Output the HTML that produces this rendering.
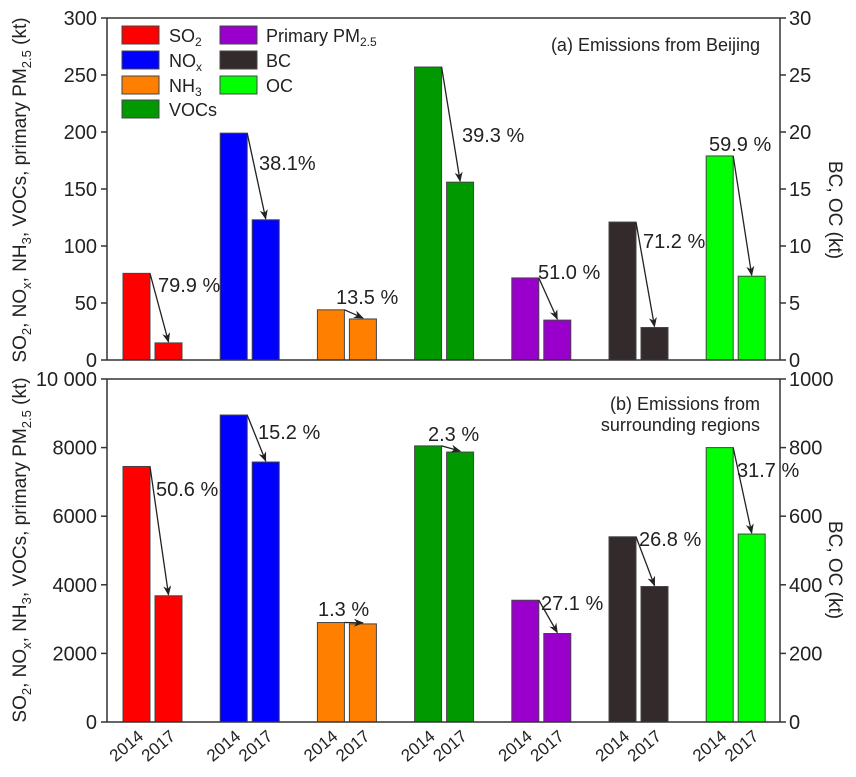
<!DOCTYPE html>
<html><head><meta charset="utf-8"><style>
body{margin:0;background:#fff}
svg{display:block;font-family:"Liberation Sans",Arial,sans-serif;fill:#222}
</style></head><body>
<svg id="c" width="856" height="777" viewBox="0 0 856 777"></svg>
<script>
const species = ["SO2","NOx","NH3","VOCs","PM2.5","BC","OC"];
const colors = ["#ff0000","#0000ff","#ff8000","#009900","#9900cc","#332b2b","#00ff00"];
const onRight = [false,false,false,false,false,true,true];
const years = ["2014","2017"];
const beijing2014 = [76,199,44,257,72,12.1,17.9];
const beijing2017 = [15,123,36,156,35,2.85,7.35];
const region2014 = [7450,8950,2900,8050,3550,540,800];
const region2017 = [3680,7580,2860,7870,2580,395,548];
const beijingPct = ["79.9 %","38.1%","13.5 %","39.3 %","51.0 %","71.2 %","59.9 %"];
const regionPct = ["50.6 %","15.2 %","1.3 %","2.3 %","27.1 %","26.8 %","31.7 %"];
const leftTicksA = [0,50,100,150,200,250,300];
const rightTicksA = [0,5,10,15,20,25,30];
const leftTicksB = [0,2000,4000,6000,8000,10000];
const rightTicksB = [0,200,400,600,800,1000];

const NS="http://www.w3.org/2000/svg";
const svg=document.getElementById('c');
function el(t,a,p){const e=document.createElementNS(NS,t);for(const k in a)e.setAttribute(k,a[k]);(p||svg).appendChild(e);return e;}
const X0=107,X1=780,BW=27,GAP=5;
function gx(i){return 123+i*97.2;}
const defs=el('defs',{});
const mk=el('marker',{id:'ah',markerWidth:10,markerHeight:10,refX:9,refY:5,orient:'auto',markerUnits:'userSpaceOnUse'},defs);
el('path',{d:'M0,1 L10,5 L0,9 L3,5 Z',fill:'#222'},mk);

function panel(name,top,bot,lmax,rmax,v14,v17,pcts,lt,rt,labelOff){
  const g=el('g',{});
  
  
  const yl=v=>bot-(v/lmax)*(bot-top);
  const yr=v=>bot-(v/rmax)*(bot-top);
  species.forEach((s,i)=>{
    const y=onRight[i]?yr:yl;
    const x=gx(i);
    const a=el('rect',{x:x,y:y(v14[i]),width:BW,height:bot-y(v14[i]),fill:colors[i],stroke:'#444','stroke-width':1},g);
    
    
    const b=el('rect',{x:x+BW+GAP,y:y(v17[i]),width:BW,height:bot-y(v17[i]),fill:colors[i],stroke:'#444','stroke-width':1},g);
    
    
    const ar=el('line',{x1:x+BW,y1:y(v14[i]),x2:x+BW+GAP+BW/2,y2:y(v17[i])-1,stroke:'#222','stroke-width':1.3,'marker-end':'url(#ah)'},g);
    
    
    const t=el('text',{x:labelOff[i][0],y:labelOff[i][1],'font-size':20},g);
    t.textContent=pcts[i];
    
    
  });
  el('line',{x1:X0,y1:top,x2:X1,y2:top,stroke:'#333','stroke-width':1.5},g);
  el('line',{x1:X0,y1:bot,x2:X1,y2:bot,stroke:'#333','stroke-width':1.5},g);
  el('line',{x1:X0,y1:top,x2:X0,y2:bot,stroke:'#333','stroke-width':1.5},g);
  el('line',{x1:X1,y1:top,x2:X1,y2:bot,stroke:'#333','stroke-width':1.5},g);
  lt.forEach(v=>{
    el('line',{x1:X0-6,y1:yl(v),x2:X0,y2:yl(v),stroke:'#333','stroke-width':1.5},g);
    const t=el('text',{x:X0-10,y:yl(v)+7,'font-size':20,'text-anchor':'end'},g);
    t.textContent=v===10000?'10 000':v;
    
    
  });
  rt.forEach(v=>{
    el('line',{x1:X1,y1:yr(v),x2:X1+6,y2:yr(v),stroke:'#333','stroke-width':1.5},g);
    const t=el('text',{x:X1+9,y:yr(v)+7,'font-size':20},g);
    t.textContent=v;
    
    
  });
  return g;
}
panel('panel-beijing',18,360,300,30,beijing2014,beijing2017,beijingPct,leftTicksA,rightTicksA,
 [[158,292],[259,170],[336,304],[462,142],[538,279],[643,248],[709,151]]);
panel('panel-surrounding',379,722,10000,1000,region2014,region2017,regionPct,leftTicksB,rightTicksB,
 [[156,496],[258,439],[318,616],[428,441],[541,610],[639,546],[737,477]]);

species.forEach((s,i)=>{
  years.forEach((yr,j)=>{
    const cx=gx(i)+j*(BW+GAP)+BW/2+8;
    const t=el('text',{x:cx,y:738,'font-size':17,'text-anchor':'end',transform:`rotate(-40 ${cx} 738)`});
    t.textContent=yr;
    
    
  });
});
</script>
<svg style="position:absolute;left:0;top:0" width="856" height="777">
<g font-family="Liberation Sans, Arial, sans-serif" fill="#222">
<text transform="translate(26,190) rotate(-90)" text-anchor="middle" font-size="19">SO<tspan font-size="13" dy="5">2</tspan><tspan dy="-5">, NO</tspan><tspan font-size="13" dy="5">x</tspan><tspan dy="-5">, NH</tspan><tspan font-size="13" dy="5">3</tspan><tspan dy="-5">, VOCs, primary PM</tspan><tspan font-size="13" dy="5">2.5</tspan><tspan dy="-5"> (kt)</tspan></text>
<text transform="translate(26,550) rotate(-90)" text-anchor="middle" font-size="19">SO<tspan font-size="13" dy="5">2</tspan><tspan dy="-5">, NO</tspan><tspan font-size="13" dy="5">x</tspan><tspan dy="-5">, NH</tspan><tspan font-size="13" dy="5">3</tspan><tspan dy="-5">, VOCs, primary PM</tspan><tspan font-size="13" dy="5">2.5</tspan><tspan dy="-5"> (kt)</tspan></text>
<text transform="translate(829,210) rotate(90)" text-anchor="middle" font-size="19">BC, OC (kt)</text>
<text transform="translate(829,570) rotate(90)" text-anchor="middle" font-size="19">BC, OC (kt)</text>
<text x="760" y="51" text-anchor="end" font-size="18">(a) Emissions from Beijing</text>
<text x="760" y="410" text-anchor="end" font-size="18">(b) Emissions from</text>
<text x="760" y="431" text-anchor="end" font-size="18">surrounding regions</text>
<g font-size="18">
<rect x="122" y="26" width="37" height="18" fill="#ff0000" stroke="#444"/><text x="169" y="42">SO<tspan font-size="12" dy="4">2</tspan></text>
<rect x="122" y="51" width="37" height="18" fill="#0000ff" stroke="#444"/><text x="169" y="67">NO<tspan font-size="12" dy="4">x</tspan></text>
<rect x="122" y="76" width="37" height="18" fill="#ff8000" stroke="#444"/><text x="169" y="92">NH<tspan font-size="12" dy="4">3</tspan></text>
<rect x="122" y="100" width="37" height="18" fill="#009900" stroke="#444"/><text x="169" y="116">VOCs</text>
<rect x="220" y="26" width="37" height="18" fill="#9900cc" stroke="#444"/><text x="266" y="42">Primary PM<tspan font-size="12" dy="4">2.5</tspan></text>
<rect x="220" y="51" width="37" height="18" fill="#332b2b" stroke="#444"/><text x="266" y="67">BC</text>
<rect x="220" y="76" width="37" height="18" fill="#00ff00" stroke="#444"/><text x="266" y="92">OC</text>
</g>
</g></svg>
</body></html>
